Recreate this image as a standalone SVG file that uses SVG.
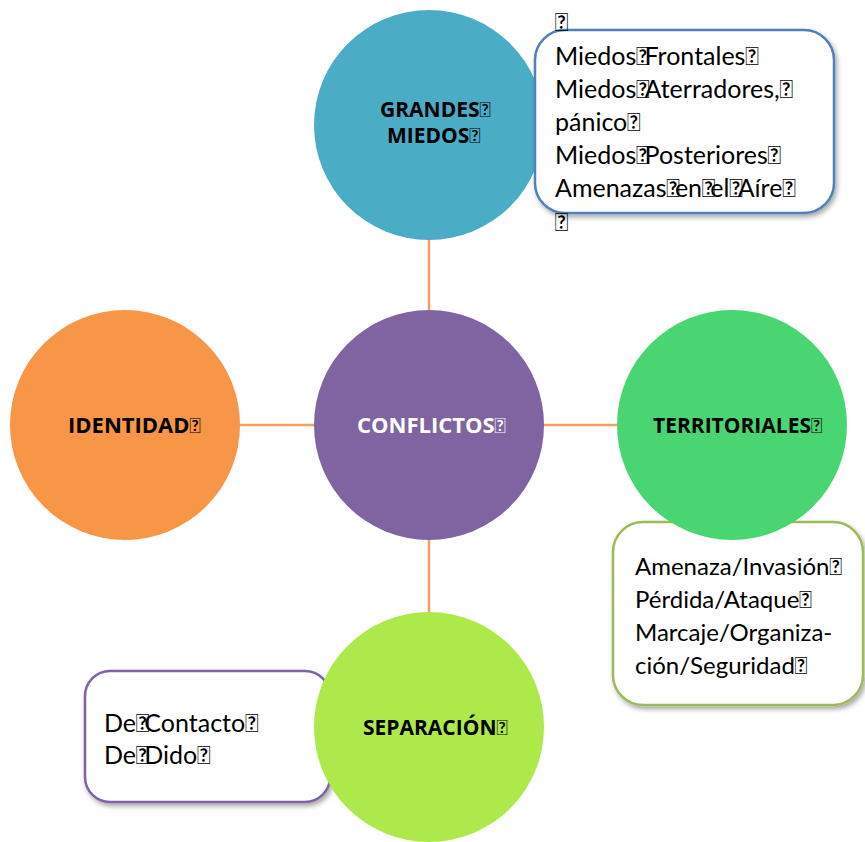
<svg xmlns="http://www.w3.org/2000/svg" width="865" height="842" viewBox="0 0 865 842">
<defs>
<filter id="sh" x="-10%" y="-10%" width="125%" height="130%">
<feDropShadow dx="2" dy="3" stdDeviation="2.5" flood-color="#000" flood-opacity="0.35"/>
</filter>
<style>
.lbl{font-family:"Open Sans",Lato,"Liberation Sans",sans-serif;font-weight:bold;font-size:21px;fill:#000}
.txt{font-family:Lato,"Liberation Sans",sans-serif;font-size:25px;fill:#000}
.t{font-family:Lato,"Liberation Sans",sans-serif;letter-spacing:-5px}
.tb{font-family:Lato,"Liberation Sans",sans-serif;font-weight:normal;font-size:21px}
.con{stroke:#F4A064;stroke-width:2.5;fill:none}
.box{fill:#fff;stroke-width:2.5;filter:url(#sh)}
</style>
</defs>
<rect width="865" height="842" fill="#fff"/>
<g id="connectors">
<line class="con" x1="429" y1="238" x2="429" y2="310"/>
<line class="con" x1="238" y1="425" x2="316" y2="425"/>
<line class="con" x1="542" y1="425" x2="618" y2="425"/>
<line class="con" x1="429" y1="538" x2="429" y2="614"/>
</g>
<g id="grandes-miedos">
<circle cx="429" cy="125" r="115" fill="#4BACC6"/>
<text class="lbl" x="380" y="117">GRANDES<tspan class="tb">&#xF020;</tspan></text>
<text class="lbl" x="387" y="143">MIEDOS<tspan class="tb">&#xF020;</tspan></text>
</g>
<g id="miedos-box">
<rect class="box" x="535" y="30" width="299" height="183" rx="30" stroke="#4F81BD"/>
<text class="txt" x="555" y="31">&#xF020;</text>
<text class="txt" x="555" y="65">Miedos<tspan class="t">&#xF020;</tspan>Frontales&#xF020;</text>
<text class="txt" x="555" y="98">Miedos<tspan class="t">&#xF020;</tspan>Aterradores,&#xF020;</text>
<text class="txt" x="555" y="131">pánico&#xF020;</text>
<text class="txt" x="555" y="164">Miedos<tspan class="t">&#xF020;</tspan>Posteriores&#xF020;</text>
<text class="txt" x="555" y="197">Amenazas<tspan class="t">&#xF020;</tspan>en<tspan class="t">&#xF020;</tspan>el<tspan class="t">&#xF020;</tspan>Aíre&#xF020;</text>
<text class="txt" x="555" y="231">&#xF020;</text>
</g>
<g id="conflictos">
<circle cx="429" cy="425" r="115" fill="#8064A2"/>
<text class="lbl" x="357" y="433" style="fill:#fff;font-size:22px">CONFLICTOS<tspan class="tb" style="fill:#fff">&#xF020;</tspan></text>
</g>
<g id="identidad">
<circle cx="125" cy="425" r="115" fill="#F79646"/>
<text class="lbl" x="68" y="433" style="font-size:22px">IDENTIDAD<tspan class="tb">&#xF020;</tspan></text>
</g>
<g id="territoriales-box">
<rect class="box" x="613" y="522" width="250" height="183" rx="30" stroke="#9BBB59"/>
<text class="txt" x="635" y="575" style="font-size:24px">Amenaza/Invasión&#xF020;</text>
<text class="txt" x="635" y="608" style="font-size:24px">Pérdida/Ataque&#xF020;</text>
<text class="txt" x="635" y="641" style="font-size:24px">Marcaje/Organiza-</text>
<text class="txt" x="635" y="674" style="font-size:24px">ción/Seguridad&#xF020;</text>
</g>
<g id="territoriales">
<circle cx="732" cy="425" r="115" fill="#49D672"/>
<text class="lbl" x="653" y="433">TERRITORIALES<tspan class="tb">&#xF020;</tspan></text>
</g>
<g id="separacion-box">
<rect class="box" x="85" y="671" width="245" height="131" rx="25" stroke="#8064A2"/>
<text class="txt" x="104" y="732">De<tspan class="t">&#xF020;</tspan>Contacto&#xF020;</text>
<text class="txt" x="104" y="764">De<tspan class="t">&#xF020;</tspan>Dido&#xF020;</text>
</g>
<g id="separacion">
<circle cx="429" cy="727" r="115" fill="#ADE94A"/>
<text class="lbl" x="363" y="735">SEPARACIÓN<tspan class="tb">&#xF020;</tspan></text>
</g>
</svg>
